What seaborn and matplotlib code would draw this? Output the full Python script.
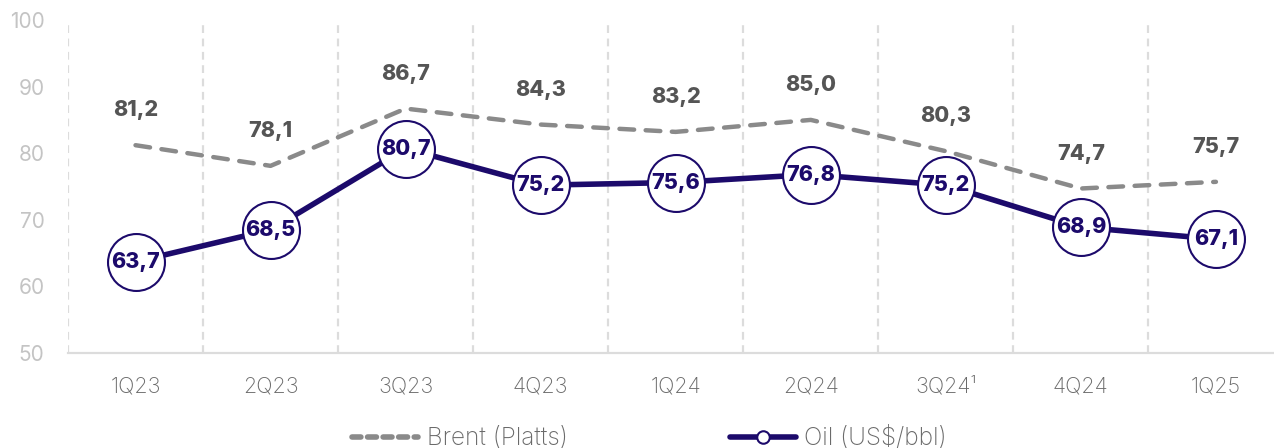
import matplotlib
matplotlib.use("Agg")
import matplotlib.pyplot as plt
import seaborn as sns
import pandas as pd
from matplotlib.lines import Line2D

quarters = ["1Q23", "2Q23", "3Q23", "4Q23", "1Q24", "2Q24", "3Q24", "4Q24", "1Q25"]
tick_labels = ["1Q23", "2Q23", "3Q23", "4Q23", "1Q24", "2Q24", "3Q24¹", "4Q24", "1Q25"]
brent = [81.2, 78.1, 86.7, 84.3, 83.2, 85.0, 80.3, 74.7, 75.7]
oil = [63.7, 68.5, 80.7, 75.2, 75.6, 76.8, 75.2, 68.9, 67.1]
yticks = [50, 60, 70, 80, 90, 100]

sns.set_style("white")
plt.rcParams['font.family'] = ['Inter', 'DejaVu Sans']

NAVY = "#1c0a6b"
GREY = "#8a8a8a"
DGREY = "#555555"

df = pd.DataFrame({"x": range(len(quarters)), "brent": brent, "oil": oil})

fig = plt.figure(figsize=(12.74, 4.48), dpi=100)
ax = fig.add_axes([68/1274, 95/448, 1206/1274, (353-20)/448])

# vertical dashed separators
for b in [i - 0.5 for i in range(len(quarters))]:
    ax.plot([b, b], [50, 100], color="#dcdcdc", lw=1.6, ls=(0, (3.5, 2.5)), zorder=0)

sns.lineplot(data=df, x="x", y="brent", ax=ax, color=GREY, lw=3.2, zorder=2)
bl = ax.lines[-1]
bl.set_dashes((3.3, 2.6))
bl.set_dash_capstyle("round")

sns.lineplot(data=df, x="x", y="oil", ax=ax, color=NAVY, lw=4, zorder=3,
             marker="o", markersize=41, markerfacecolor="white",
             markeredgecolor=NAVY, markeredgewidth=1.5)

for i, v in enumerate(brent):
    ax.annotate(f"{v:.1f}".replace(".", ","), (i, v), xytext=(0, 25),
                textcoords="offset points", ha="center", va="center",
                fontsize=15.5, fontweight="heavy", color=DGREY, zorder=4)
for i, v in enumerate(oil):
    ax.annotate(f"{v:.1f}".replace(".", ","), (i, v), xytext=(0, 0),
                textcoords="offset points", ha="center", va="center",
                fontsize=15.5, fontweight="heavy", color=NAVY, zorder=5)

ax.set_xlim(-0.5, 8.43)
ax.set_ylim(50, 100)
ax.set_yticks(yticks)
ax.set_yticklabels([str(t) for t in yticks], fontsize=15, color="#c4c4c4")
ax.set_xticks(range(len(quarters)))
ax.set_xticklabels(tick_labels, fontsize=15.5, color="#6a6a6a", fontweight="light")
ax.tick_params(axis="x", length=0, pad=17)
ax.tick_params(axis="y", length=0, pad=17)
ax.set_xlabel("")
ax.set_ylabel("")
for s in ["top", "right", "left"]:
    ax.spines[s].set_visible(False)
ax.spines["bottom"].set_color("#dcdcdc")
ax.spines["bottom"].set_linewidth(1.6)

h1 = Line2D([], [], color=GREY, lw=4, dashes=(1.6, 1.2), dash_capstyle="round")
h2 = Line2D([], [], color=NAVY, lw=4, marker="o", markersize=9,
            markerfacecolor="white", markeredgecolor=NAVY, markeredgewidth=1.5)
leg = fig.legend([h1, h2], ["Brent (Platts)", "Oil (US$/bbl)"], loc="center",
           bbox_to_anchor=(0.51, 0.022), ncol=2, frameon=False, fontsize=17.5,
           handlelength=2.7, handletextpad=0.35, columnspacing=6.7,
           labelcolor="#6a6a6a")
for t in leg.get_texts():
    t.set_fontweight("light")

fig.savefig("out.png", dpi=100)
